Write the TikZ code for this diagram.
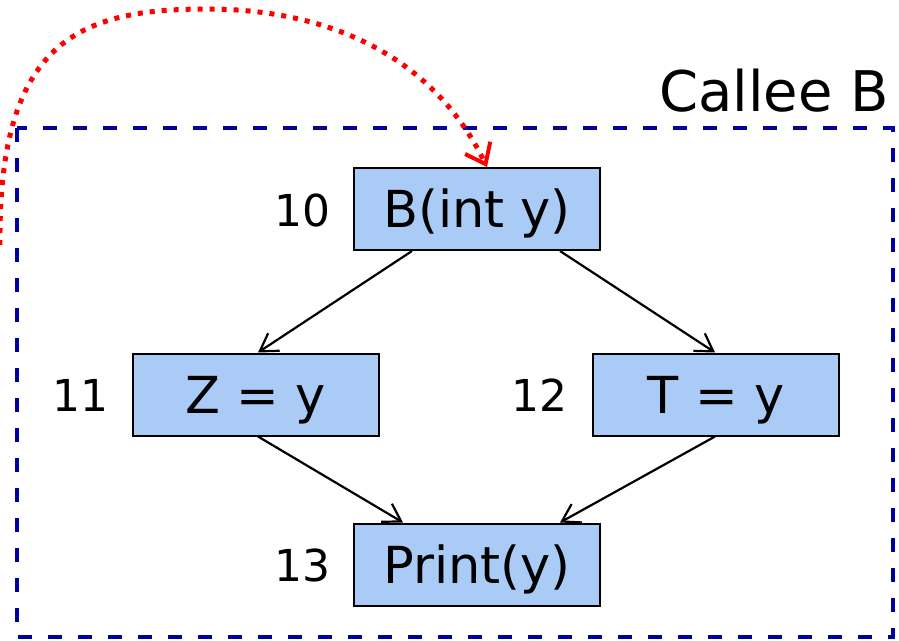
\documentclass[tikz,border=0pt]{standalone}
\usepackage{fontspec}
\setmainfont{DejaVu Sans}
\usetikzlibrary{arrows.meta}
\definecolor{boxfill}{RGB}{171,203,247}
\definecolor{navy}{RGB}{0,0,160}
\tikzset{
  cfgbox/.style={draw=black, fill=boxfill, line width=2pt, minimum width=246pt, minimum height=82pt, inner sep=0pt, text height=37pt, text depth=0pt, font=\fontsize{51}{58}\selectfont},
  numlab/.style={anchor=east, inner sep=0pt, text height=32pt, text depth=0pt, font=\fontsize{44}{52}\selectfont},
  flow/.style={draw=black, line width=2.2pt, -{Straight Barb[length=17pt,width=21pt,line width=2.2pt]}},
  callflow/.style={draw=red, line width=5pt, dash pattern=on 5pt off 7pt, -{Straight Barb[length=18pt,width=28pt,line width=4pt]}},
  region/.style={draw=navy, line width=3.5pt, dash pattern=on 14pt off 16pt}
}
\begin{document}
\begin{tikzpicture}[x=1pt,y=-1pt]
\useasboundingbox (0,0) rectangle (899,640);
\draw[region] (17,128) rectangle (893,637);
\node[anchor=base east, inner sep=0pt, font=\fontsize{56}{64}\selectfont] (title) at (889,111) {Callee B};
\node[cfgbox] (b) at (477,209) {B(int y)};
\node[cfgbox] (z) at (256,394.5) {Z = y};
\node[cfgbox] (t) at (716,394.5) {T = y};
\node[cfgbox] (p) at (477,564.5) {Print(y)};
\node[numlab] (n10) at (331,210) {10};
\node[numlab] (n11) at (109,395) {11};
\node[numlab] (n12) at (568,395) {12};
\node[numlab] (n13) at (331,565) {13};
\coordinate (callsrc) at (0,245);
\coordinate (calltop) at (207,9);
\coordinate (calltip) at (487,167);
\draw[flow] ([xshift=-65pt]b.south) -- ([xshift=2pt]z.north);
\draw[flow] ([xshift=83pt]b.south) -- ([xshift=-1pt]t.north);
\draw[flow] ([xshift=2pt]z.south) -- ([xshift=-74pt]p.north);
\draw[flow] ([xshift=-1pt]t.south) -- ([xshift=83pt]p.north);
\draw[callflow] (callsrc) .. controls (-2,40) and (80,9) .. (calltop)
  .. controls (320,9) and (430,50) .. (calltip);
\end{tikzpicture}
\end{document}
